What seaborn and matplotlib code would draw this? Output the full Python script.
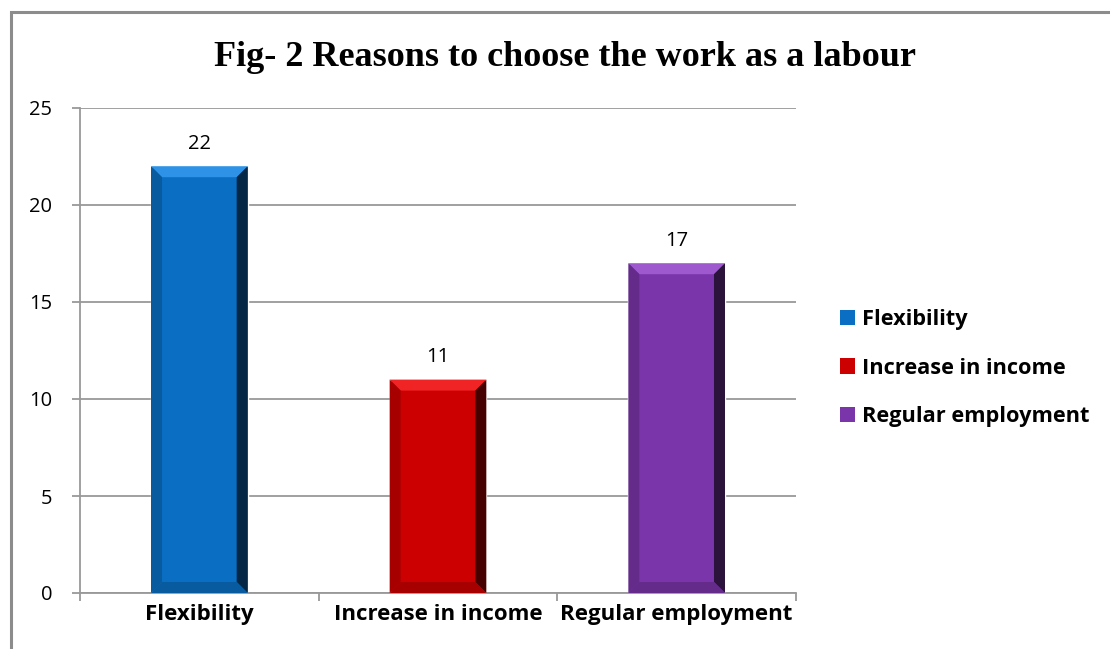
import matplotlib
matplotlib.use("Agg")
import matplotlib.pyplot as plt
import matplotlib.colors as mcolors
from matplotlib.patches import Polygon, Rectangle
import pandas as pd
import seaborn as sns

# ---------------------------------------------------------------------
# Data
# ---------------------------------------------------------------------
categories = ["Flexibility", "Increase in income", "Regular employment"]
counts = [22, 11, 17]
bar_colors = ["#0a6fc2", "#cc0000", "#7a35aa"]
title = "Fig- 2 Reasons to choose the work as a labour"

df = pd.DataFrame({"Reason": categories, "Count": counts})

# ---------------------------------------------------------------------
# Figure
# ---------------------------------------------------------------------
sns.set_theme(style="white")
plt.rcParams["font.family"] = ["Open Sans", "DejaVu Sans"]
plt.rcParams["text.color"] = "black"
plt.rcParams["xtick.color"] = "black"
plt.rcParams["ytick.color"] = "black"

W, H = 1110, 649
fig = plt.figure(figsize=(W / 100, H / 100), dpi=100)
fig.patch.set_facecolor("white")

# outer chart frame (runs off the right and bottom edge)
fig.patches.append(
    Rectangle((11 / W, -0.05), 1.2, 1 - 12 / H + 0.05, transform=fig.transFigure,
              fill=False, edgecolor="#8c8c8c", linewidth=2.2)
)

ax_l, ax_r, ax_t, ax_b = 80, 796, 108, 593
ax = fig.add_axes([ax_l / W, 1 - ax_b / H, (ax_r - ax_l) / W, (ax_b - ax_t) / H])

sns.barplot(data=df, x="Reason", y="Count", hue="Reason", palette=bar_colors,
            width=0.405, saturation=1, legend=False, ax=ax, zorder=2)

ax.set_ylim(0, 25)
ax.set_xlim(-0.5, len(categories) - 0.5)
ax.set_yticks(range(0, 26, 5))
ax.set_xlabel("")
ax.set_ylabel("")

grid_c = "#999999"
ax.grid(axis="y", color=grid_c, linewidth=1.3, zorder=0)
ax.set_axisbelow(True)
for s in ["top", "right"]:
    ax.spines[s].set_visible(False)
for s in ["left", "bottom"]:
    ax.spines[s].set_color(grid_c)
    ax.spines[s].set_linewidth(1.3)

ax.tick_params(axis="y", which="major", direction="out", length=6, width=1.3,
               color=grid_c, pad=14, labelsize=14.5, labelcolor="black", left=True)
ax.tick_params(axis="x", which="major", length=0, pad=8, labelcolor="black")
ax.set_xticks([i - 0.5 for i in range(len(categories) + 1)], minor=True)
ax.tick_params(axis="x", which="minor", direction="out", length=6, width=1.3,
               color=grid_c, bottom=True)
for lbl in ax.get_xticklabels():
    lbl.set_fontweight("bold")
    lbl.set_fontsize(16)

# bevel shading derived from each bar's geometry
px_x = len(categories) / (ax_r - ax_l)
px_y = 25 / (ax_b - ax_t)
bev = 11


def bevel(target, x0, y0, x1, y1, col, dx, dy, z, transform=None):
    base = mcolors.to_rgb(col)
    light = tuple(min(1, c + 0.14) for c in base)
    dark = tuple(c * 0.35 for c in base)
    mid = tuple(c * 0.82 for c in base)
    faces = [
        ([(x0, y1), (x1, y1), (x1 - dx, y1 - dy), (x0 + dx, y1 - dy)], light),
        ([(x1, y1), (x1, y0), (x1 - dx, y0 + dy), (x1 - dx, y1 - dy)], dark),
        ([(x0, y1), (x0 + dx, y1 - dy), (x0 + dx, y0 + dy), (x0, y0)], mid),
        ([(x0, y0), (x0 + dx, y0 + dy), (x1 - dx, y0 + dy), (x1, y0)], mid),
    ]
    for pts, fc in faces:
        kw = {} if transform is None else {"transform": transform}
        target.add_artist(Polygon(pts, closed=True, facecolor=fc, edgecolor="none",
                                  zorder=z, **kw))


for patch, col in zip(ax.patches, bar_colors):
    x0, y0 = patch.get_x(), patch.get_y()
    x1, y1 = x0 + patch.get_width(), y0 + patch.get_height()
    bevel(ax, x0, y0, x1, y1, col, bev * px_x, bev * px_y, 3, ax.transData)

# value labels
for patch, val in zip(ax.patches, counts):
    ax.annotate(str(val), (patch.get_x() + patch.get_width() / 2, val),
                xytext=(0, 16), textcoords="offset points",
                ha="center", va="center", fontsize=14.5, color="black")

# title
fig.text(565 / W, 1 - 57 / H, title, ha="center", va="center", color="black",
         fontsize=26, fontweight="bold", family=["Liberation Serif", "DejaVu Serif"])

# legend
handles = [Rectangle((0, 0), 1, 1, facecolor=c, edgecolor="none") for c in bar_colors]
leg = fig.legend(handles, categories, loc="center left",
                 bbox_to_anchor=(831 / W, 1 - 368 / H), frameon=False,
                 handlelength=0.7, handleheight=0.7, handletextpad=0.3,
                 labelspacing=1.26, borderaxespad=0,
                 prop={"weight": "bold", "size": 15.7})
for t in leg.get_texts():
    t.set_color("black")

fig.savefig("out.png", dpi=100)
